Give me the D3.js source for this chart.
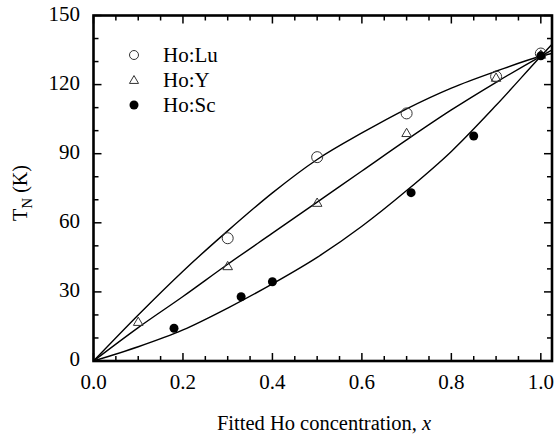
<!DOCTYPE html>
<html>
<head>
<meta charset="utf-8">
<script src="https://cdn.jsdelivr.net/npm/d3@7"></script>
<style>
  html, body { margin: 0; padding: 0; background: #fff; }
  svg { display: block; font-family: "Liberation Serif", "Times New Roman", serif; }
</style>
</head>
<body>
<div id="chart"></div>
<script>
// ---- Data ----
const seriesNames = ["Ho:Lu", "Ho:Y", "Ho:Sc"];
const luX = [0.3, 0.5, 0.7, 0.9, 1.0];
const luT = [53.3, 88.5, 107.5, 123.5, 133.5];
const yX  = [0.1, 0.3, 0.5, 0.7, 0.9, 1.0];
const yT  = [17.0, 41.2, 68.7, 99.0, 123.0, 133.0];
const scX = [0.18, 0.33, 0.40, 0.71, 0.85, 1.0];
const scT = [14.2, 27.9, 34.4, 73.1, 97.7, 132.5];

// fitted curves
const fitX   = [0, 0.1, 0.2, 0.3, 0.4, 0.5, 0.6, 0.7, 0.8, 0.9, 1.0, 1.025];
const fitLuT = [0, 20.0, 39.0, 56.5, 73.0, 87.5, 99.0, 109.5, 118.5, 125.8, 132.3, 133.5];
const fitYT  = [0, 14.5, 28.0, 42.0, 55.5, 69.0, 82.5, 96.0, 109.0, 121.0, 132.3, 135.0];
const fitScT = [0, 6.2, 13.5, 23.0, 33.5, 45.0, 58.5, 74.0, 91.0, 111.0, 132.3, 137.5];

const xMajor = [0, 0.2, 0.4, 0.6, 0.8, 1.0];
const xTickLabels = ["0.0", "0.2", "0.4", "0.6", "0.8", "1.0"];
const yMajor = [0, 30, 60, 90, 120, 150];
const yTickLabels = ["0", "30", "60", "90", "120", "150"];

// ---- Layout ----
const W = 557, H = 438;
const L = 93.5, R = 552, T = 15.5, B = 361;

const svg = d3.select("#chart").append("svg").attr("width", W).attr("height", H);

const x = d3.scaleLinear().domain([0, 1.025]).range([L, R]);
const y = d3.scaleLinear().domain([0, 150]).range([B, T]);

const xMinor = d3.range(0, 1.0251, 0.05).filter(v => !xMajor.some(m => Math.abs(m - v) < 1e-6));
const yMinor = d3.range(0, 150.1, 10).filter(v => !yMajor.some(m => Math.abs(m - v) < 1e-6));

// clip
svg.append("clipPath").attr("id", "clip").append("rect")
  .attr("x", L).attr("y", T).attr("width", R - L).attr("height", B - T);

// fitted curves
const line = d3.line().x(d => x(d[0])).y(d => y(d[1])).curve(d3.curveMonotoneX);
[fitLuT, fitYT, fitScT].forEach(arr => {
  svg.append("path")
    .datum(fitX.map((v, i) => [v, arr[i]]))
    .attr("clip-path", "url(#clip)")
    .attr("fill", "none").attr("stroke", "#000").attr("stroke-width", 1.4)
    .attr("d", line);
});

// markers
const g = svg.append("g");
const tri = d3.symbol().type(d3.symbolTriangle);
g.selectAll(".lu").data(luX.map((v, i) => [v, luT[i]])).enter().append("circle")
  .attr("cx", d => x(d[0])).attr("cy", d => y(d[1])).attr("r", 5.5)
  .attr("fill", "none").attr("stroke", "#333").attr("stroke-width", 1);
g.selectAll(".yy").data(yX.map((v, i) => [v, yT[i]])).enter().append("path")
  .attr("transform", d => `translate(${x(d[0])},${y(d[1]) + 0.8})`)
  .attr("d", tri.size(40)())
  .attr("fill", "none").attr("stroke", "#333").attr("stroke-width", 1);
g.selectAll(".sc").data(scX.map((v, i) => [v, scT[i]])).enter().append("circle")
  .attr("cx", d => x(d[0])).attr("cy", d => y(d[1])).attr("r", 4.5)
  .attr("fill", "#000");

// axes
const axG = svg.append("g");
const majorLen = 8, minorLen = 5;
xMajor.forEach(v => {
  axG.append("line").attr("x1", x(v)).attr("x2", x(v)).attr("y1", B).attr("y2", B - majorLen);
  axG.append("line").attr("x1", x(v)).attr("x2", x(v)).attr("y1", T).attr("y2", T + majorLen);
});
xMinor.forEach(v => {
  axG.append("line").attr("x1", x(v)).attr("x2", x(v)).attr("y1", B).attr("y2", B - minorLen);
  axG.append("line").attr("x1", x(v)).attr("x2", x(v)).attr("y1", T).attr("y2", T + minorLen);
});
yMajor.forEach(v => {
  axG.append("line").attr("x1", L).attr("x2", L + majorLen).attr("y1", y(v)).attr("y2", y(v));
  axG.append("line").attr("x1", R).attr("x2", R - majorLen).attr("y1", y(v)).attr("y2", y(v));
});
yMinor.forEach(v => {
  axG.append("line").attr("x1", L).attr("x2", L + minorLen).attr("y1", y(v)).attr("y2", y(v));
  axG.append("line").attr("x1", R).attr("x2", R - minorLen).attr("y1", y(v)).attr("y2", y(v));
});
axG.selectAll("line").attr("stroke", "#000").attr("stroke-width", 1.5);
axG.append("rect").attr("x", L).attr("y", T).attr("width", R - L).attr("height", B - T)
  .attr("fill", "none").attr("stroke", "#000").attr("stroke-width", 2.6);

// tick labels
svg.selectAll(".xl").data(xMajor).enter().append("text")
  .attr("x", d => x(d)).attr("y", 389)
  .attr("text-anchor", "middle").attr("font-size", 21)
  .text((d, i) => xTickLabels[i]);
svg.selectAll(".yl").data(yMajor).enter().append("text")
  .attr("x", 80).attr("y", d => y(d) + 5)
  .attr("text-anchor", "end").attr("font-size", 21)
  .text((d, i) => yTickLabels[i]);

// axis titles
const xt = svg.append("text").attr("x", 324).attr("y", 430)
  .attr("text-anchor", "middle").attr("font-size", 20.5);
xt.append("tspan").text("Fitted Ho concentration, ");
xt.append("tspan").attr("font-style", "italic").text("x");

const yt = svg.append("text")
  .attr("transform", "translate(27,193) rotate(-90)")
  .attr("text-anchor", "middle").attr("font-size", 20);
yt.append("tspan").text("T");
yt.append("tspan").attr("font-size", 15).attr("dy", 5).text("N");
yt.append("tspan").attr("dy", -5).text(" (K)");

// legend
const legY = [55, 80, 105];
const lg = svg.append("g");
lg.append("circle").attr("cx", 134).attr("cy", legY[0]).attr("r", 4.5)
  .attr("fill", "none").attr("stroke", "#333").attr("stroke-width", 1);
lg.append("path").attr("transform", `translate(134,${legY[1] + 0.8})`)
  .attr("d", tri.size(36)()).attr("fill", "none").attr("stroke", "#333").attr("stroke-width", 1);
lg.append("circle").attr("cx", 134).attr("cy", legY[2]).attr("r", 4.5).attr("fill", "#000");
seriesNames.forEach((s, i) => {
  lg.append("text").attr("x", 163).attr("y", legY[i] + 6.5)
    .attr("font-size", 21).text(s);
});
</script>
</body>
</html>
